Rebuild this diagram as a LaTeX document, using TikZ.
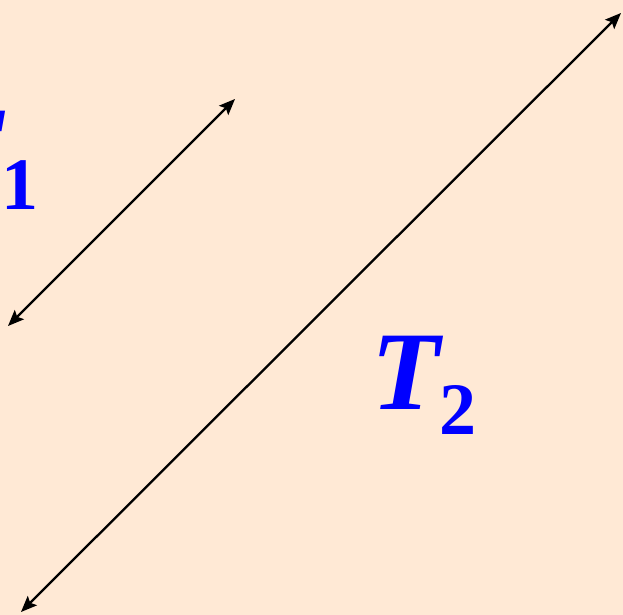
\documentclass[tikz,border=0pt]{standalone}
\usepackage{fontspec}
\setmainfont{Liberation Serif}
\usetikzlibrary{arrows.meta}
\definecolor{peach}{RGB}{255,233,213}
\definecolor{labelblue}{RGB}{0,0,255}

\begin{document}
\begin{tikzpicture}[x=0.5pt,y=-0.5pt,<->,>={Stealth[length=8pt,width=6.5pt,inset=1.5pt]},
                    line width=1.15pt,
                    timelabel/.style={anchor=base west,inner sep=0pt,text=labelblue,
                                      font=\fontsize{56}{60}\selectfont\bfseries\itshape}]
    \fill[peach,-] (0,0) rectangle (623,615);
    \useasboundingbox (0,0) rectangle (623,615);

    \coordinate (A1) at (8,326);
    \coordinate (B1) at (235,99);
    \coordinate (A2) at (21,612);
    \coordinate (B2) at (621,13);

    \node[timelabel] (T1) at (-68,185) {T\raisebox{-12.5pt}{\fontsize{37}{40}\selectfont\upshape 1}};
    \node[timelabel] (T2) at (370,410) {T\raisebox{-12.5pt}{\fontsize{37}{40}\selectfont\upshape 2}};

    \draw (A1) -- (B1);
    \draw (A2) -- (B2);
\end{tikzpicture}
\end{document}
